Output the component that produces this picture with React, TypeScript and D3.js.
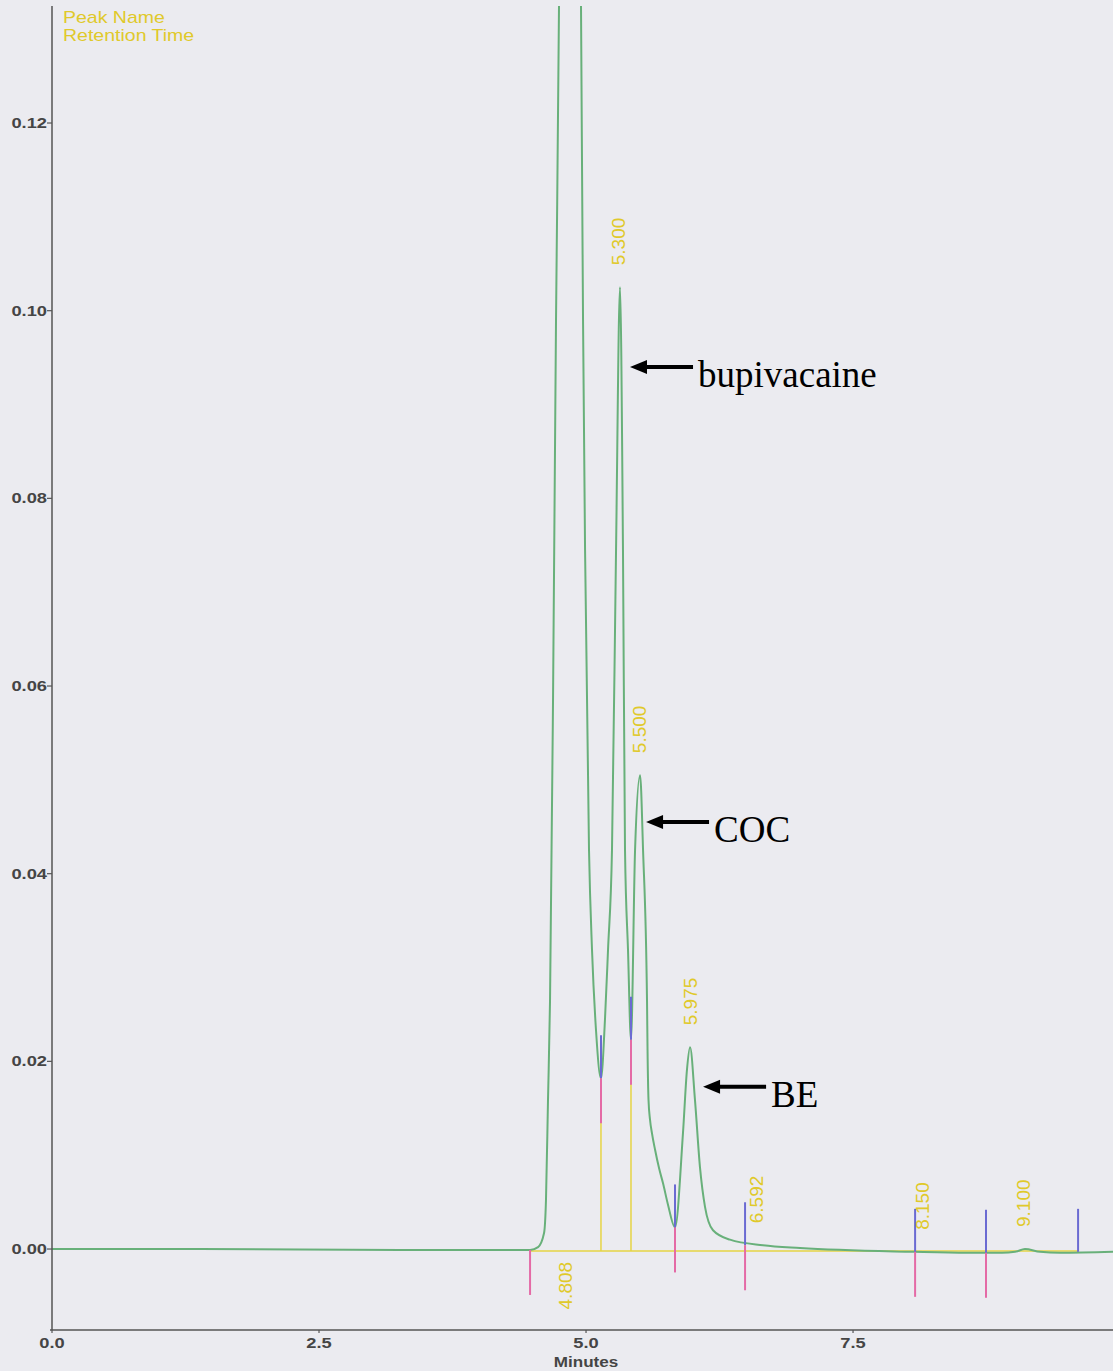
import React from "react";
import * as d3 from "d3";

// ---- data ----
const times = [
  0.0, 1.386, 3.258, 4.476, 4.551, 4.607, 4.625, 4.644, 4.663, 4.691, 4.719, 4.747, 4.808,
  4.953, 4.972, 4.991, 5.028, 5.056, 5.093, 5.14, 5.178, 5.206, 5.243, 5.281, 5.318, 5.346,
  5.365, 5.393, 5.421, 5.459, 5.506, 5.534, 5.571, 5.576, 5.585, 5.599, 5.618, 5.646, 5.684,
  5.721, 5.768, 5.833, 5.908, 5.945, 5.974, 6.02, 6.067, 6.114, 6.189, 6.348, 6.657, 7.004,
  8.062, 8.567, 8.895, 9.017, 9.11, 9.251, 9.438, 9.934,
];
const absorbance = [
  0.0, 0.0, -0.0001, -0.0001, 0.0002, 0.0017, 0.0052, 0.0159, 0.0265, 0.0585, 0.099, 0.1325,
  0.3, 0.1325, 0.099, 0.0745, 0.0425, 0.0319, 0.0234, 0.0182, 0.0246, 0.0319, 0.0425, 0.0745,
  0.1025, 0.0745, 0.0425, 0.0319, 0.0223, 0.0425, 0.0505, 0.0425, 0.0265, 0.0212, 0.0159,
  0.0138, 0.0123, 0.0106, 0.0086, 0.007, 0.0047, 0.0023, 0.0124, 0.0191, 0.0215, 0.0159,
  0.0087, 0.0045, 0.002, 0.001, 0.0004, 0.0001, -0.0003, -0.0004, -0.0004, -0.0003, 0.0,
  -0.0003, -0.0004, -0.0003,
];

const peakTimes = [4.808, 5.3, 5.5, 5.975, 6.592, 8.15, 9.1];
const peakHeights = [0.3, 0.1025, 0.0505, 0.0215, 0.0004, -0.0003, 0.0];

const markerTimes = [4.476, 5.14, 5.421, 5.833, 6.489, 8.081, 8.745, 9.607];
const markerValues = [-0.0001, 0.0182, 0.0223, 0.0023, 0.0004, -0.0003, -0.0004, -0.0003];
const markerKinds = ["pink", "both", "both", "both", "both", "both", "both", "blue"];
const baselineValue = -0.0002;

const annLabels = ["bupivacaine", "COC", "BE"];
const annTimes = [5.412, 5.562, 6.096];
const annValues = [0.094, 0.0455, 0.0173];

const yTicks = [0.0, 0.02, 0.04, 0.06, 0.08, 0.1, 0.12];
const xTicks = [0.0, 2.5, 5.0, 7.5];
const legendLines = ["Peak Name", "Retention Time"];

// ---- layout ----
const W = 1113;
const H = 1371;
const M = { left: 52, top: 6, right: 0, bottom: 41 };
const plotW = W - M.left - M.right;
const plotH = H - M.top - M.bottom;

const COLORS = {
  bg: "#ebebf0",
  axis: "#555555",
  tickText: "#454545",
  curve: "#68b07a",
  yellow: "#e6d445",
  yellowText: "#e0c92a",
  blue: "#6a6ad2",
  pink: "#e46aa6",
};

export default function App() {
  const x = d3.scaleLinear().domain([0, 9.934]).range([M.left, M.left + plotW]);
  const y = d3.scaleLinear().domain([-0.00863, 0.13247]).range([M.top + plotH, M.top]);

  const pts = times.map((t, i) => [t, absorbance[i]] as [number, number]);
  const line = d3
    .line<[number, number]>()
    .x((d) => x(d[0]))
    .y((d) => y(d[1]))
    .curve(d3.curveMonotoneX);

  const sans = "'Liberation Sans', Arial, Helvetica, sans-serif";
  const serif = "'Liberation Serif', 'Times New Roman', serif";
  const stretch = 1.22;
  const blueLen = 43;
  const pinkLen = 45;

  return (
    <div style={{ position: "absolute", left: 0, top: 0, width: W, height: H }}>
      <svg width={W} height={H} style={{ display: "block" }}>
        <defs>
          <clipPath id="plotClip">
            <rect x={M.left} y={M.top} width={plotW} height={plotH} />
          </clipPath>
        </defs>
        <rect x={0} y={0} width={W} height={H} fill={COLORS.bg} />

        {/* legend */}
        {legendLines.map((s, i) => (
          <text
            key={s}
            transform={`translate(63, ${23 + i * 18}) scale(${stretch},1)`}
            fontFamily={sans}
            fontSize={16}
            fill={COLORS.yellowText}
          >
            {s}
          </text>
        ))}

        {/* yellow baseline and drop lines */}
        <line
          x1={x(markerTimes[0])}
          x2={x(markerTimes[markerTimes.length - 1])}
          y1={y(baselineValue)}
          y2={y(baselineValue)}
          stroke={COLORS.yellow}
          strokeWidth={1.5}
        />
        {markerTimes.map((t, i) =>
          markerKinds[i] === "both" ? (
            <line
              key={"drop" + i}
              x1={x(t)}
              x2={x(t)}
              y1={y(markerValues[i])}
              y2={y(baselineValue)}
              stroke={COLORS.yellow}
              strokeWidth={1.5}
            />
          ) : null
        )}

        {/* chromatogram */}
        <path
          d={line(pts) || ""}
          fill="none"
          stroke={COLORS.curve}
          strokeWidth={2}
          clipPath="url(#plotClip)"
        />

        {/* integration markers */}
        {markerTimes.map((t, i) => {
          const cx = x(t);
          const cy = y(markerValues[i]);
          const k = markerKinds[i];
          return (
            <g key={"m" + i}>
              {k !== "pink" && (
                <line x1={cx} x2={cx} y1={cy - blueLen} y2={cy} stroke={COLORS.blue} strokeWidth={2} />
              )}
              {k !== "blue" && (
                <line x1={cx} x2={cx} y1={cy} y2={cy + pinkLen} stroke={COLORS.pink} strokeWidth={2} />
              )}
            </g>
          );
        })}

        {/* retention time labels */}
        {peakTimes.map((t, i) => {
          const px = x(t);
          const offscale = peakHeights[i] > y.domain()[1];
          const py = offscale ? y(baselineValue) + 11 : y(peakHeights[i]) - 22;
          return (
            <text
              key={"p" + i}
              transform={`translate(${px}, ${py}) rotate(-90)`}
              textAnchor={offscale ? "end" : "start"}
              dominantBaseline="central"
              fontFamily={sans}
              fontSize={19}
              fill={COLORS.yellowText}
            >
              {d3.format(".3f")(t)}
            </text>
          );
        })}

        {/* axes */}
        <line x1={M.left} x2={M.left} y1={M.top} y2={M.top + plotH} stroke={COLORS.axis} strokeWidth={1.5} />
        <line x1={M.left - 2} x2={W} y1={M.top + plotH} y2={M.top + plotH} stroke={COLORS.axis} strokeWidth={1.5} />
        {yTicks.map((v) => (
          <g key={"yt" + v}>
            <line x1={M.left - 5} x2={M.left} y1={y(v)} y2={y(v)} stroke={COLORS.axis} strokeWidth={1.2} />
            <text
              transform={`translate(${M.left - 5}, ${y(v)}) scale(${stretch},1)`}
              textAnchor="end"
              dominantBaseline="central"
              fontFamily={sans}
              fontWeight="bold"
              fontSize={15}
              fill={COLORS.tickText}
            >
              {d3.format(".2f")(v)}
            </text>
          </g>
        ))}
        {xTicks.map((v) => (
          <g key={"xt" + v}>
            <line x1={x(v)} x2={x(v)} y1={M.top + plotH} y2={M.top + plotH + 3} stroke={COLORS.axis} strokeWidth={1.2} />
            <text
              transform={`translate(${x(v)}, ${M.top + plotH + 18}) scale(${stretch},1)`}
              textAnchor="middle"
              fontFamily={sans}
              fontWeight="bold"
              fontSize={15}
              fill={COLORS.tickText}
            >
              {d3.format(".1f")(v)}
            </text>
          </g>
        ))}
        <text
          transform={`translate(${x(5.0)}, ${M.top + plotH + 37}) scale(${stretch},1)`}
          textAnchor="middle"
          fontFamily={sans}
          fontWeight="bold"
          fontSize={14}
          fill={COLORS.tickText}
        >
          Minutes
        </text>

        {/* annotations */}
        {annLabels.map((s, i) => {
          const tx = x(annTimes[i]);
          const ty = y(annValues[i]);
          return (
            <g key={"a" + i}>
              <line x1={tx + 12} x2={tx + 63} y1={ty} y2={ty} stroke="#000" strokeWidth={4} />
              <path d={`M${tx},${ty} L${tx + 17},${ty - 7} L${tx + 17},${ty + 7} Z`} fill="#000" />
              <text x={tx + 68} y={ty + 20} fontFamily={serif} fontSize={37} fill="#000">
                {s}
              </text>
            </g>
          );
        })}
      </svg>
    </div>
  );
}
